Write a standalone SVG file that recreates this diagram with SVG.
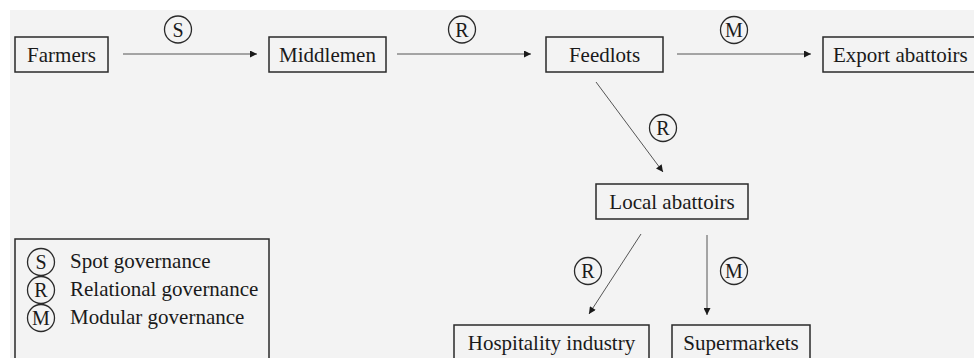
<svg xmlns="http://www.w3.org/2000/svg" width="974" height="358" viewBox="0 0 974 358">
<defs>
<style>
text{font-family:'Liberation Serif',serif !important;fill:#1a1a1a}
.box{fill:none;stroke:#2a2a2a;stroke-width:1.5}
.ring{fill:none;stroke:#2a2a2a;stroke-width:1.3}
.ln{stroke:#555;stroke-width:1;fill:none}
</style>
<marker id="ah" viewBox="0 0 10 10" refX="10" refY="5" markerWidth="9" markerHeight="7" markerUnits="userSpaceOnUse" orient="auto">
<path d="M0,0 L10,5 L0,10 z" fill="#1a1a1a"/>
</marker>
</defs>
<rect x="0" y="0" width="974" height="358" fill="#ffffff"/>
<rect x="10" y="10" width="964" height="348" fill="#f3f3f3"/>

<g id="connectors">
<line class="ln" marker-end="url(#ah)" x1="123" y1="54" x2="257" y2="54"/>
<line class="ln" marker-end="url(#ah)" x1="397" y1="54" x2="531" y2="54"/>
<line class="ln" marker-end="url(#ah)" x1="677" y1="54" x2="811" y2="54"/>
<line class="ln" marker-end="url(#ah)" x1="596" y1="82" x2="663" y2="172"/>
<line class="ln" marker-end="url(#ah)" x1="641" y1="234" x2="589" y2="314"/>
<line class="ln" marker-end="url(#ah)" x1="707" y1="235" x2="707" y2="315"/>
<g id="labels" font-size="20" text-anchor="middle">
<circle class="ring" cx="178" cy="29.5" r="13.5"/><text x="178" y="36.5">S</text>
<circle class="ring" cx="462" cy="29.5" r="13.5"/><text x="462" y="36.5">R</text>
<circle class="ring" cx="734" cy="30" r="13.5"/><text x="734" y="37">M</text>
<circle class="ring" cx="663" cy="128" r="13.5"/><text x="663" y="135">R</text>
<circle class="ring" cx="588" cy="271" r="13.5"/><text x="588" y="278">R</text>
<circle class="ring" cx="734" cy="271" r="13.5"/><text x="734" y="278">M</text>
</g>
</g>

<g id="farmers"><rect class="box" x="15" y="37" width="93" height="35"/><text font-size="21" text-anchor="middle" x="61.5" y="62">Farmers</text></g>
<g id="middlemen"><rect class="box" x="269" y="37" width="117" height="35"/><text font-size="21" text-anchor="middle" x="327.5" y="62">Middlemen</text></g>
<g id="feedlots"><rect class="box" x="546" y="37" width="117" height="35"/><text font-size="21" text-anchor="middle" x="604.5" y="62">Feedlots</text></g>
<g id="export"><rect class="box" x="823" y="37" width="160" height="35"/><text font-size="21" x="833" y="62">Export abattoirs</text></g>
<g id="local"><rect class="box" x="596" y="184" width="152" height="35"/><text font-size="21" text-anchor="middle" x="672" y="209">Local abattoirs</text></g>
<g id="hospitality"><rect class="box" x="454" y="325" width="195" height="40"/><text font-size="21" text-anchor="middle" x="551.5" y="350">Hospitality industry</text></g>
<g id="supermarkets"><rect class="box" x="672" y="325" width="138" height="40"/><text font-size="21" text-anchor="middle" x="741" y="350">Supermarkets</text></g>

<g id="legend">
<rect class="box" x="15" y="239" width="254" height="130"/>
<circle class="ring" cx="41" cy="262" r="13.5"/><text font-size="20" text-anchor="middle" x="41" y="269">S</text>
<text font-size="21" x="70" y="268">Spot governance</text>
<circle class="ring" cx="41" cy="290" r="13.5"/><text font-size="20" text-anchor="middle" x="41" y="297">R</text>
<text font-size="21" x="70" y="296">Relational governance</text>
<circle class="ring" cx="41" cy="318" r="13.5"/><text font-size="20" text-anchor="middle" x="41" y="325">M</text>
<text font-size="21" x="70" y="324">Modular governance</text>
</g>
</svg>
